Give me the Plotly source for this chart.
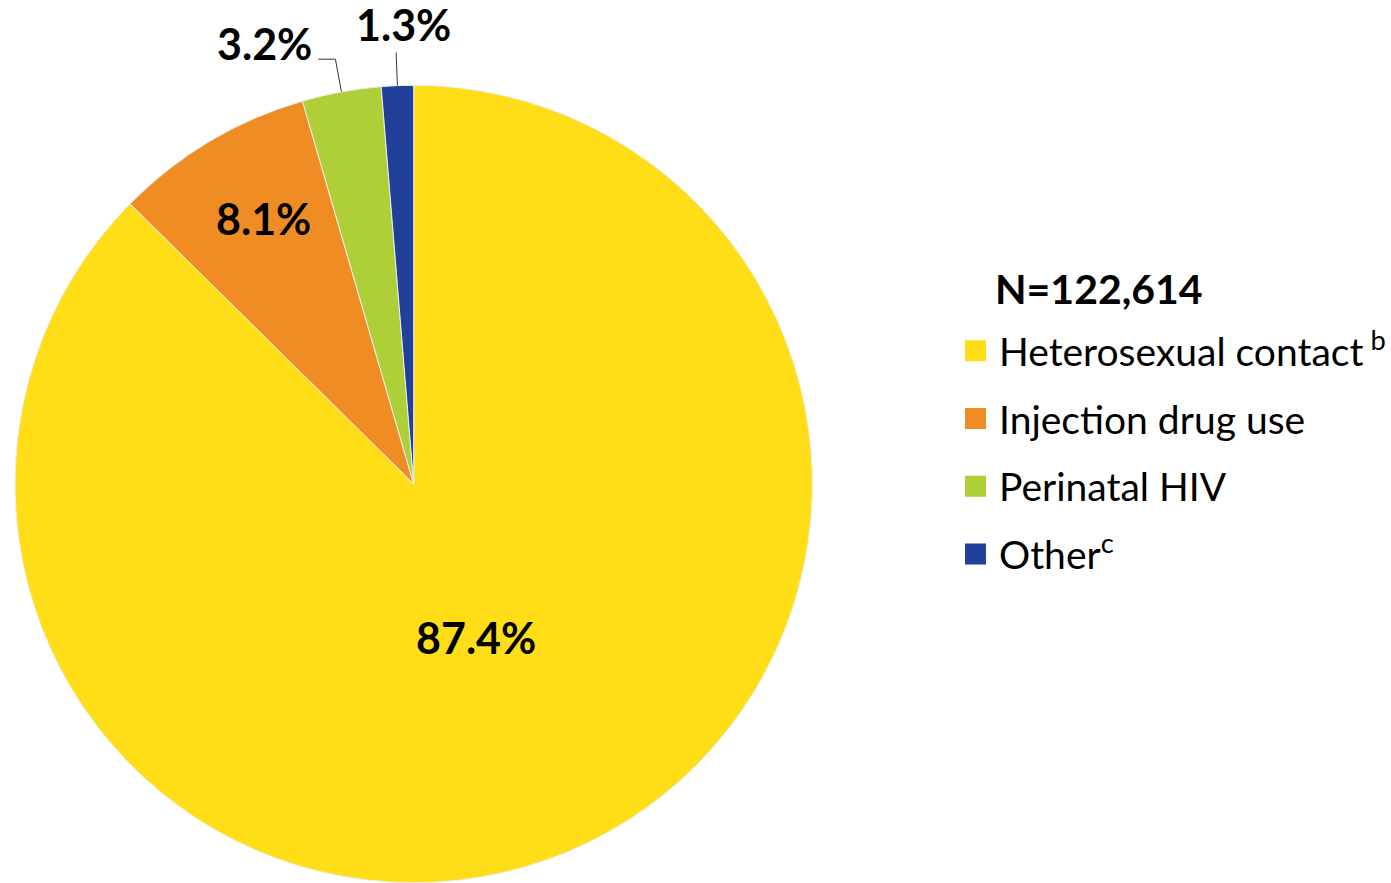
import math
import plotly.graph_objects as go

# ---- data ----
categories = ["Heterosexual contact", "Injection drug use", "Perinatal HIV", "Other"]
legend_labels = ["Heterosexual contact<sup> b</sup>", "Injection drug use", "Perinatal HIV", "Other<sup>c</sup>"]
values = [87.4, 8.1, 3.2, 1.3]
total_n = "122,614"

# ---- style ----
colors = ["#FFDD17", "#F08C24", "#AECF38", "#21409A"]
FONT = "Lato"
W, H = 1391, 883
CX, CY, R = 414, 484, 399          # pie centre / radius in px
label_mode = ["inside", "inside", "outside", "outside"]
inside_r = [0.42, 0.76, None, None]    # fraction of radius for inside labels
inside_nudge = [(-2, 1), (5, 5), None, None]   # small px nudges for inside labels
leader_ext = 33                        # radial leader length (px)
leader_tail = [0, 0, 17, 0]            # horizontal tail (px, to the left)
PCT_SIZE = 43

fig = go.Figure()
fig.add_trace(go.Pie(
    labels=categories, values=values, sort=False, direction="clockwise", rotation=0,
    marker=dict(colors=colors, line=dict(color="#eeeeee", width=1)),
    textinfo="none", hoverinfo="label+percent", showlegend=False,
    domain=dict(x=[(CX - R) / W, (CX + R) / W], y=[(H - CY - R) / H, (H - CY + R) / H]),
))

# legend entries (square swatches)
for i, (lab, c) in enumerate(zip(legend_labels, colors)):
    fig.add_trace(go.Scatter(
        x=[None], y=[None], mode="markers", name=lab, legendgroup=str(i),
        marker=dict(symbol="square", size=16, color=c, line=dict(color=c, width=5)),
    ))

# percentage labels computed from the data
total = sum(values)
cum = 0.0
ax0, ay0 = CX / W, (H - CY) / H
shapes, annos = [], []
for i, v in enumerate(values):
    mid = (cum + v / 2) / total * 2 * math.pi
    cum += v
    s, c = math.sin(mid), math.cos(mid)
    txt = f"<b>{v / total * 100:.1f}%</b>"
    font = dict(family=FONT, size=PCT_SIZE, color="black")
    if label_mode[i] == "inside":
        r = inside_r[i] * R
        nx, ny = inside_nudge[i]
        annos.append(dict(x=ax0, y=ay0, xref="paper", yref="paper", xshift=r * s + nx, yshift=r * c + ny,
                          xanchor="center", yanchor="middle",
                          text=txt, showarrow=False, font=font))
    else:
        x1, y1 = R * s, R * c
        x2, y2 = (R + leader_ext) * s, (R + leader_ext) * c
        x3, y3 = x2 - leader_tail[i], y2
        shapes.append(dict(type="path", xref="paper", yref="paper", xsizemode="pixel", ysizemode="pixel",
                           xanchor=ax0, yanchor=ay0,
                           path=f"M{x1:.1f},{y1:.1f} L{x2:.1f},{y2:.1f} L{x3:.1f},{y3:.1f}",
                           line=dict(color="#333333", width=1)))
        if leader_tail[i] > 0:
            annos.append(dict(x=ax0, y=ay0, xref="paper", yref="paper", xshift=x3 - 4, yshift=y3 + 16,
                              xanchor="right", yanchor="middle",
                              text=txt, showarrow=False, font=font))
        else:
            annos.append(dict(x=ax0, y=ay0, xref="paper", yref="paper", xshift=x2 + 7, yshift=y2 + 28,
                              xanchor="center", yanchor="middle",
                              text=txt, showarrow=False, font=font))

# legend heading
annos.append(dict(x=994 / W, y=1 - 288 / H, xref="paper", yref="paper", xanchor="left", yanchor="middle",
                  text="<b>N=" + total_n + "</b>", showarrow=False,
                  font=dict(family=FONT, size=41, color="black")))

fig.update_layout(
    width=W, height=H,
    margin=dict(l=0, r=0, t=0, b=0),
    paper_bgcolor="white", plot_bgcolor="white",
    xaxis=dict(visible=False), yaxis=dict(visible=False),
    shapes=shapes, annotations=annos,
    legend=dict(
        font=dict(family=FONT, size=39, color="black"),
        x=953 / W, xanchor="left", y=1 - 319 / H, yanchor="top",
        tracegroupgap=14, itemwidth=37, bgcolor="rgba(0,0,0,0)",
    ),
)

fig.write_html("out.html", config={"displayModeBar": False},
               post_script="document.body.style.margin='0';")
